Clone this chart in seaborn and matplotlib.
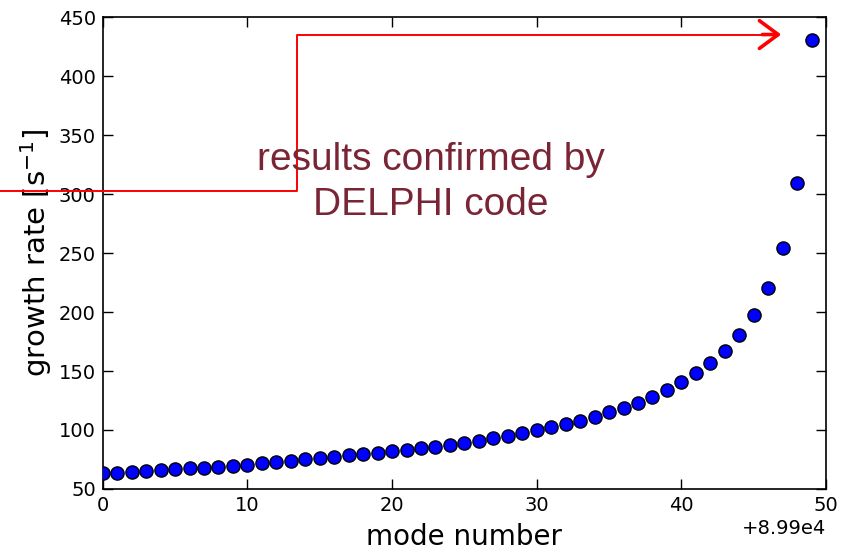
import matplotlib
matplotlib.use("Agg")
import matplotlib.pyplot as plt
import seaborn as sns
import numpy as np
import pandas as pd

# Data
mode_offset = 89900
mode_number = [mode_offset + i for i in range(50)]
growth_rate = [63.3, 63.8, 64.4, 65.5, 66.1, 66.7, 67.5, 68.1, 68.6, 69.5,
               70.6, 71.7, 72.9, 74.0, 75.1, 76.0, 77.4, 78.5, 79.7, 80.8,
               82.2, 83.3, 84.5, 85.9, 86.9, 89.0, 90.6, 93.0, 95.2, 97.2,
               99.7, 102.3, 104.8, 107.9, 111.3, 115.0, 118.9, 123.1, 128.2, 133.9,
               140.7, 148.0, 156.8, 167.2, 180.8, 197.5, 220.5, 254.0, 309.8, 430.7]
x_ticks = [0, 10, 20, 30, 40, 50]
y_ticks = [50, 100, 150, 200, 250, 300, 350, 400, 450]
annotation_text = "results confirmed by\nDELPHI code"

df = pd.DataFrame({"mode": mode_number, "rate": growth_rate})

sns.set_style("ticks")
plt.rcParams['font.family'] = ['DejaVu Sans']

fig = plt.figure(figsize=(8.56, 5.55), dpi=100)
ax = fig.add_axes([0.12, 0.119, 0.845, 0.85])

sns.scatterplot(data=df, x="mode", y="rate", ax=ax, s=90, color="#0000ff",
                edgecolor="black", linewidth=1.0, zorder=3)

ax.set_xlim(mode_offset + 0, mode_offset + 50)
ax.set_ylim(50, 450)
ax.set_xticks([mode_offset + t for t in x_ticks])
ax.set_yticks(y_ticks)
ax.ticklabel_format(axis='x', useOffset=mode_offset, style='plain')
ax.xaxis.get_offset_text().set_fontsize(14)
ax.xaxis.get_offset_text().set_color('black')

ax.tick_params(direction='in', length=7, width=1, top=True, right=True,
               labelsize=14, colors='black', pad=5)
for sp in ax.spines.values():
    sp.set_visible(True)
    sp.set_color('black')
    sp.set_linewidth(1.2)

ax.set_xlabel("mode number", fontsize=20, labelpad=6, color='black')
ax.set_ylabel(r"growth rate [s$^{-1}$]", fontsize=21, labelpad=3, color='black')

# red arrow path
ax.plot([mode_offset - 7.1, mode_offset + 13.4, mode_offset + 13.4, mode_offset + 46.0],
        [302.8, 302.8, 435.3, 435.3], color='red', lw=1.4, clip_on=False, zorder=4)
ax.annotate('', xy=(mode_offset + 46.9, 435.3), xytext=(mode_offset + 45.6, 435.3),
            arrowprops=dict(arrowstyle='->,head_length=1.35,head_width=1.0',
                            color='red', lw=2.6, mutation_scale=10,
                            shrinkA=0, shrinkB=0), annotation_clip=False, zorder=4)

ax.text(mode_offset + 22.7, 310, annotation_text, ha='center', va='center',
        fontsize=28, color='#7a2535', family='Liberation Sans', linespacing=1.3,
        zorder=5)

fig.savefig("out.png", dpi=100)
